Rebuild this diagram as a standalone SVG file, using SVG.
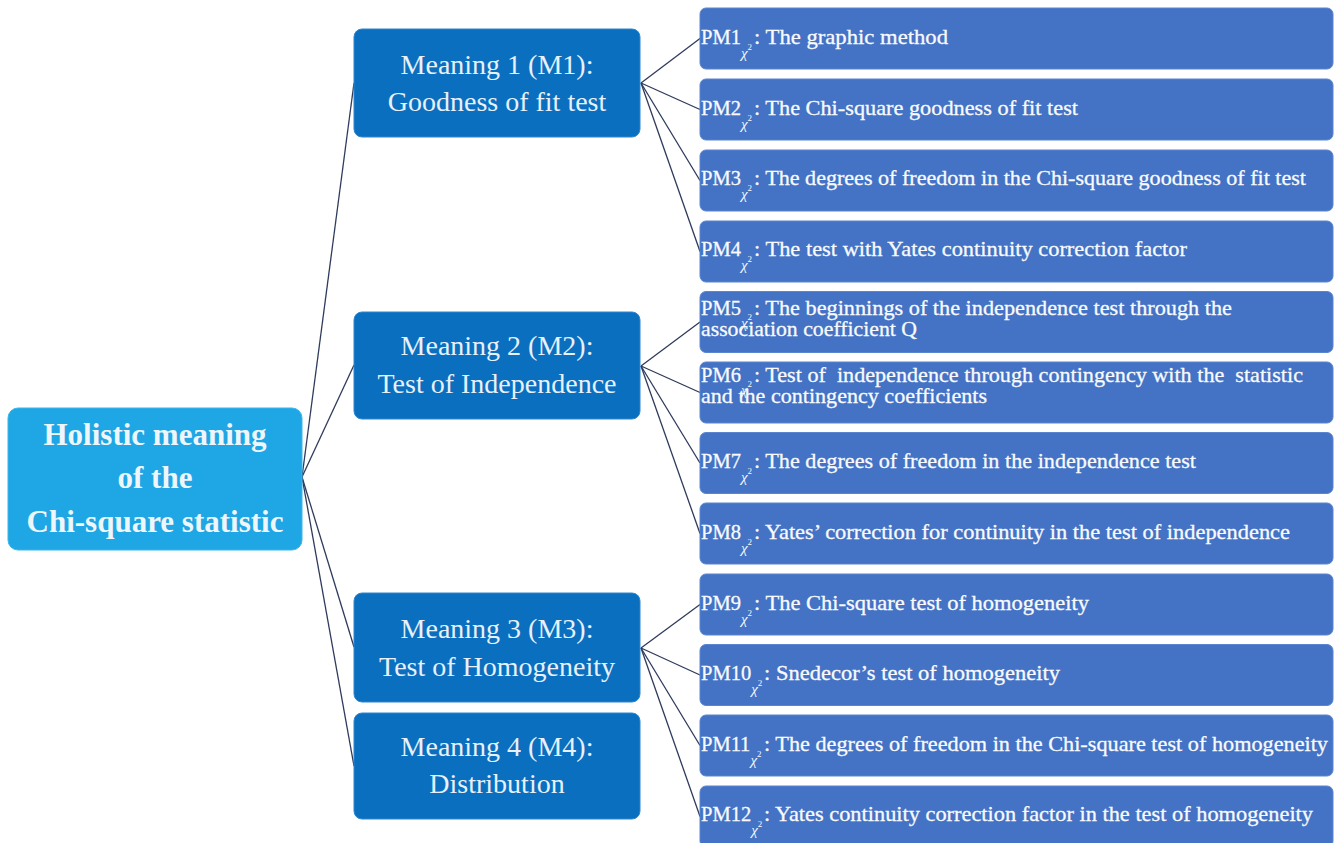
<svg xmlns="http://www.w3.org/2000/svg" width="1338" height="843" viewBox="0 0 1338 843">
<style>
.root{fill:#1ea7e4;stroke:#3bb5ea;stroke-width:1}
.mb{fill:#0b6fbf;stroke:#2f86cf;stroke-width:1}
.pb{fill:#4472c4;stroke:#5b85cf;stroke-width:1}
.rt{font-family:"Liberation Serif","Times New Roman",serif;font-weight:bold;font-size:31px;fill:#eef6fb;text-anchor:middle}
.mt{font-family:"Liberation Serif","Times New Roman",serif;font-size:28px;fill:#e8f1fa;text-anchor:middle}
.pt{font-family:"Liberation Serif","Times New Roman",serif;font-size:20.5px;fill:#f8fafd;stroke:#f8fafd;stroke-width:0.3}
.px{font-family:"Liberation Serif","Times New Roman",serif;font-size:21px;fill:#f8fafd;stroke:#f8fafd;stroke-width:0.3}
.chi{font-style:italic;font-size:15px;stroke-width:0}
.sup{font-size:9px;stroke-width:0}
.conn line{stroke:#2f3b5c;stroke-width:1.3}
</style>
<rect width="1338" height="843" fill="#ffffff"/>
<g class="conn" id="connectors">
<line x1="302" y1="477" x2="354" y2="83"/>
<line x1="302" y1="477" x2="354" y2="365"/>
<line x1="302" y1="477" x2="354" y2="647"/>
<line x1="302" y1="477" x2="354" y2="766"/>
<line x1="641" y1="83" x2="700" y2="38.5"/>
<line x1="641" y1="83" x2="700" y2="109.5"/>
<line x1="641" y1="83" x2="700" y2="180.5"/>
<line x1="641" y1="83" x2="700" y2="251.5"/>
<line x1="641" y1="366" x2="700" y2="322"/>
<line x1="641" y1="366" x2="700" y2="392.5"/>
<line x1="641" y1="366" x2="700" y2="463"/>
<line x1="641" y1="366" x2="700" y2="533.5"/>
<line x1="641" y1="648" x2="700" y2="604.5"/>
<line x1="641" y1="648" x2="700" y2="675"/>
<line x1="641" y1="648" x2="700" y2="745.5"/>
<line x1="641" y1="648" x2="700" y2="816.5"/>
</g>
<g id="root">
<rect class="root" x="8" y="408" width="294" height="142" rx="10"/>
<text class="rt" x="155" y="445">Holistic meaning</text>
<text class="rt" x="155" y="488">of the</text>
<text class="rt" x="155" y="532">Chi-square statistic</text>
</g>
<g id="m1">
<rect class="mb" x="354" y="29" width="286" height="108" rx="8"/>
<text class="mt" x="497" y="74">Meaning 1 (M1):</text>
<text class="mt" x="497" y="111">Goodness of fit test</text>
</g>
<g id="m2">
<rect class="mb" x="354" y="312" width="286" height="107" rx="8"/>
<text class="mt" x="497" y="355">Meaning 2 (M2):</text>
<text class="mt" x="497" y="393">Test of Independence</text>
</g>
<g id="m3">
<rect class="mb" x="354" y="593" width="286" height="109" rx="8"/>
<text class="mt" x="497" y="638">Meaning 3 (M3):</text>
<text class="mt" x="497" y="676">Test of Homogeneity</text>
</g>
<g id="m4">
<rect class="mb" x="354" y="713" width="286" height="106" rx="8"/>
<text class="mt" x="497" y="756">Meaning 4 (M4):</text>
<text class="mt" x="497" y="793">Distribution</text>
</g>
<g id="pm1">
<rect class="pb" x="700" y="8" width="633" height="61" rx="6"/>
<text class="pt" x="701" y="44">PM1<tspan class="chi" dy="14">χ</tspan><tspan class="sup" dy="-8">2</tspan></text>
<text class="px" x="754" y="44" textLength="194" lengthAdjust="spacingAndGlyphs">: The graphic method</text>
</g>
<g id="pm2">
<rect class="pb" x="700" y="79" width="633" height="61" rx="6"/>
<text class="pt" x="701" y="115">PM2<tspan class="chi" dy="14">χ</tspan><tspan class="sup" dy="-8">2</tspan></text>
<text class="px" x="754" y="115" textLength="324" lengthAdjust="spacingAndGlyphs">: The Chi-square goodness of fit test</text>
</g>
<g id="pm3">
<rect class="pb" x="700" y="150" width="633" height="61" rx="6"/>
<text class="pt" x="701" y="185">PM3<tspan class="chi" dy="14">χ</tspan><tspan class="sup" dy="-8">2</tspan></text>
<text class="px" x="754" y="185" textLength="552" lengthAdjust="spacingAndGlyphs">: The degrees of freedom in the Chi-square goodness of fit test</text>
</g>
<g id="pm4">
<rect class="pb" x="700" y="221" width="633" height="61" rx="6"/>
<text class="pt" x="701" y="256">PM4<tspan class="chi" dy="14">χ</tspan><tspan class="sup" dy="-8">2</tspan></text>
<text class="px" x="754" y="256" textLength="433" lengthAdjust="spacingAndGlyphs">: The test with Yates continuity correction factor</text>
</g>
<g id="pm5">
<rect class="pb" x="700" y="291.5" width="633" height="61" rx="6"/>
<text class="pt" x="701" y="315">PM5<tspan class="chi" dy="13">χ</tspan><tspan class="sup" dy="-8">2</tspan></text>
<text class="px" x="754" y="315" textLength="478" lengthAdjust="spacingAndGlyphs">: The beginnings of the independence test through the</text>
<text class="px" x="701" y="336" textLength="216" lengthAdjust="spacingAndGlyphs">association coefficient Q</text>
</g>
<g id="pm6">
<rect class="pb" x="700" y="362" width="633" height="61" rx="6"/>
<text class="pt" x="701" y="382">PM6<tspan class="chi" dy="13">χ</tspan><tspan class="sup" dy="-8">2</tspan></text>
<text class="px" x="754" y="382" textLength="549" lengthAdjust="spacingAndGlyphs" xml:space="preserve">: Test of  independence through contingency with the  statistic</text>
<text class="px" x="701" y="403" textLength="286" lengthAdjust="spacingAndGlyphs">and the contingency coefficients</text>
</g>
<g id="pm7">
<rect class="pb" x="700" y="432.5" width="633" height="61" rx="6"/>
<text class="pt" x="701" y="468">PM7<tspan class="chi" dy="14">χ</tspan><tspan class="sup" dy="-8">2</tspan></text>
<text class="px" x="754" y="468" textLength="442" lengthAdjust="spacingAndGlyphs">: The degrees of freedom in the independence test</text>
</g>
<g id="pm8">
<rect class="pb" x="700" y="503" width="633" height="61" rx="6"/>
<text class="pt" x="701" y="539">PM8<tspan class="chi" dy="14">χ</tspan><tspan class="sup" dy="-8">2</tspan></text>
<text class="px" x="754" y="539" textLength="536" lengthAdjust="spacingAndGlyphs">: Yates’ correction for continuity in the test of independence</text>
</g>
<g id="pm9">
<rect class="pb" x="700" y="574" width="633" height="61" rx="6"/>
<text class="pt" x="701" y="610">PM9<tspan class="chi" dy="14">χ</tspan><tspan class="sup" dy="-8">2</tspan></text>
<text class="px" x="754" y="610" textLength="335" lengthAdjust="spacingAndGlyphs">: The Chi-square test of homogeneity</text>
</g>
<g id="pm10">
<rect class="pb" x="700" y="644.5" width="633" height="61" rx="6"/>
<text class="pt" x="701" y="680">PM10<tspan class="chi" dy="14">χ</tspan><tspan class="sup" dy="-8">2</tspan></text>
<text class="px" x="764" y="680" textLength="296" lengthAdjust="spacingAndGlyphs">: Snedecor’s test of homogeneity</text>
</g>
<g id="pm11">
<rect class="pb" x="700" y="715" width="633" height="61" rx="6"/>
<text class="pt" x="701" y="751">PM11<tspan class="chi" dy="14">χ</tspan><tspan class="sup" dy="-8">2</tspan></text>
<text class="px" x="764" y="751" textLength="564" lengthAdjust="spacingAndGlyphs">: The degrees of freedom in the Chi-square test of homogeneity</text>
</g>
<g id="pm12">
<rect class="pb" x="700" y="786" width="633" height="61" rx="6"/>
<text class="pt" x="701" y="821">PM12<tspan class="chi" dy="14">χ</tspan><tspan class="sup" dy="-8">2</tspan></text>
<text class="px" x="764" y="821" textLength="549" lengthAdjust="spacingAndGlyphs">: Yates continuity correction factor in the test of homogeneity</text>
</g>
</svg>
